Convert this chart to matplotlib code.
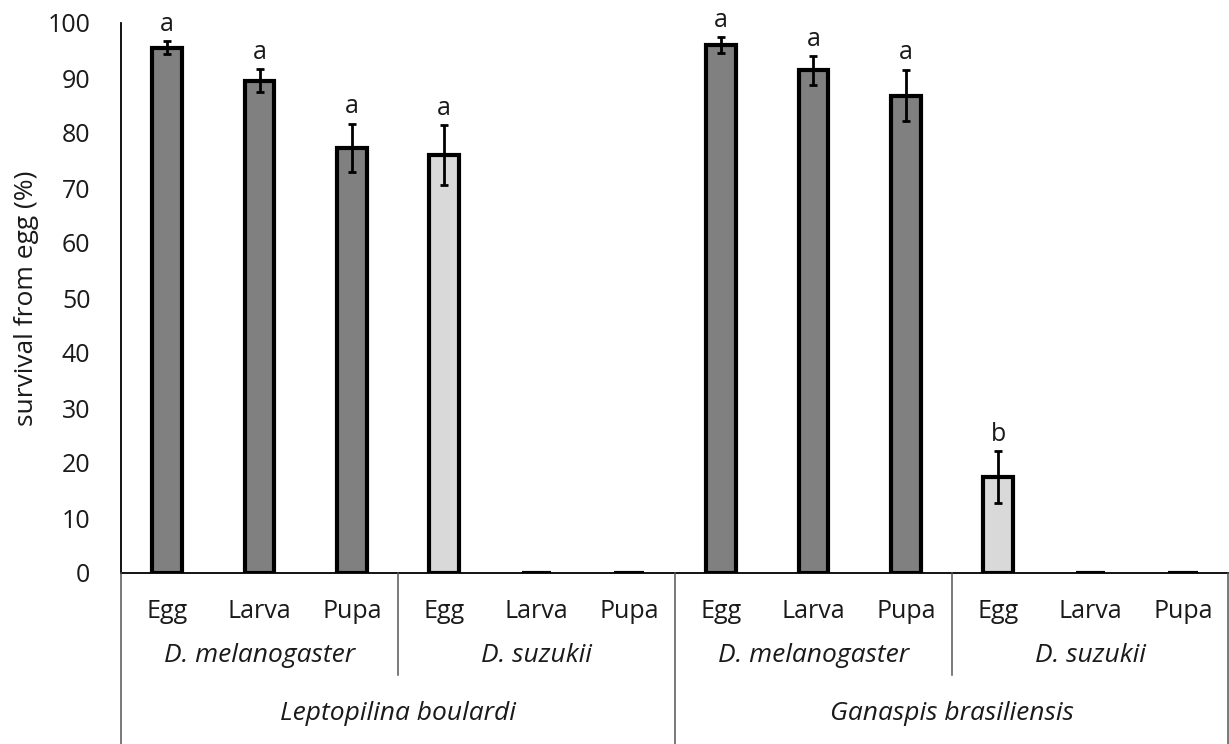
import matplotlib
matplotlib.use("Agg")
import matplotlib.pyplot as plt
from matplotlib.lines import Line2D

plt.rcParams['font.family'] = ['Open Sans', 'DejaVu Sans']

stages = ["Egg", "Larva", "Pupa", "Egg", "Larva", "Pupa",
          "Egg", "Larva", "Pupa", "Egg", "Larva", "Pupa"]
hosts = ["D. melanogaster", "D. suzukii", "D. melanogaster", "D. suzukii"]
parasitoids = ["Leptopilina boulardi", "Ganaspis brasiliensis"]
survival = [95.5, 89.5, 77.3, 76.0, 0, 0, 96.0, 91.4, 86.8, 17.4, 0, 0]
errors = [1.2, 2.1, 4.4, 5.4, 0, 0, 1.4, 2.6, 4.7, 4.7, 0, 0]
letters = ["a", "a", "a", "a", "", "", "a", "a", "a", "b", "", ""]
host_color = ["#808080", "#808080", "#808080", "#d9d9d9", "#d9d9d9", "#d9d9d9"] * 2

W, H = 1229, 744
fig = plt.figure(figsize=(W / 100, H / 100), dpi=100)
x0, x1 = 121 / W, 1.0
y0, y1 = 1 - 573 / H, 1 - 23 / H
ax = fig.add_axes([x0, y0, x1 - x0, y1 - y0])
txt = "#1a1a1a"

n = len(stages)
xs = list(range(n))
ax.bar(xs, survival, width=0.32, color=host_color, edgecolor="black", linewidth=3, zorder=2)
for x, v, e in zip(xs, survival, errors):
    if e > 0:
        ax.errorbar(x, v, yerr=e, fmt="none", ecolor="black", elinewidth=2,
                    capsize=3, capthick=2, zorder=3)
for x, v, e, l in zip(xs, survival, errors, letters):
    if l:
        ax.text(x, v + e + 0.8, l, ha="center", va="bottom", fontsize=18, color=txt,
                clip_on=False)

ax.set_xlim(-0.5, n - 0.5)
ax.set_ylim(0, 100)
ax.set_yticks(range(0, 101, 10))
ax.tick_params(axis="y", length=0, labelsize=18, pad=22, colors=txt)
ax.set_xticks([])
for s in ["top", "right"]:
    ax.spines[s].set_visible(False)
ax.spines["left"].set_linewidth(1.3)
ax.spines["bottom"].set_linewidth(1.3)
ax.set_ylabel("survival from egg (%)", fontsize=19, color=txt, labelpad=6)

def xfig(i):
    return x0 + (i + 0.5) / n * (x1 - x0)

for i, s in enumerate(stages):
    fig.text(xfig(i), 1 - 612 / H, s, ha="center", va="center", fontsize=18, color=txt)
for j, h in enumerate(hosts):
    fig.text(xfig(3 * j + 1), 1 - 655 / H, h, ha="center", va="center", fontsize=19,
             style="italic", color=txt)
for k, p in enumerate(parasitoids):
    fig.text(xfig(6 * k + 2.5), 1 - 714 / H, p, ha="center", va="center", fontsize=19,
             style="italic", color=txt)

def xsep(i):
    return x0 + i / n * (x1 - x0)

for i in [3, 9]:
    fig.add_artist(Line2D([xsep(i), xsep(i)], [y0, 1 - 675 / H], color="#555555", lw=1.1))
for i in [0, 6, 12]:
    xx = xsep(i) if i < 12 else 0.9995
    fig.add_artist(Line2D([xx, xx], [y0, 0], color="#555555", lw=1.1))

fig.savefig("out.png", dpi=100)
